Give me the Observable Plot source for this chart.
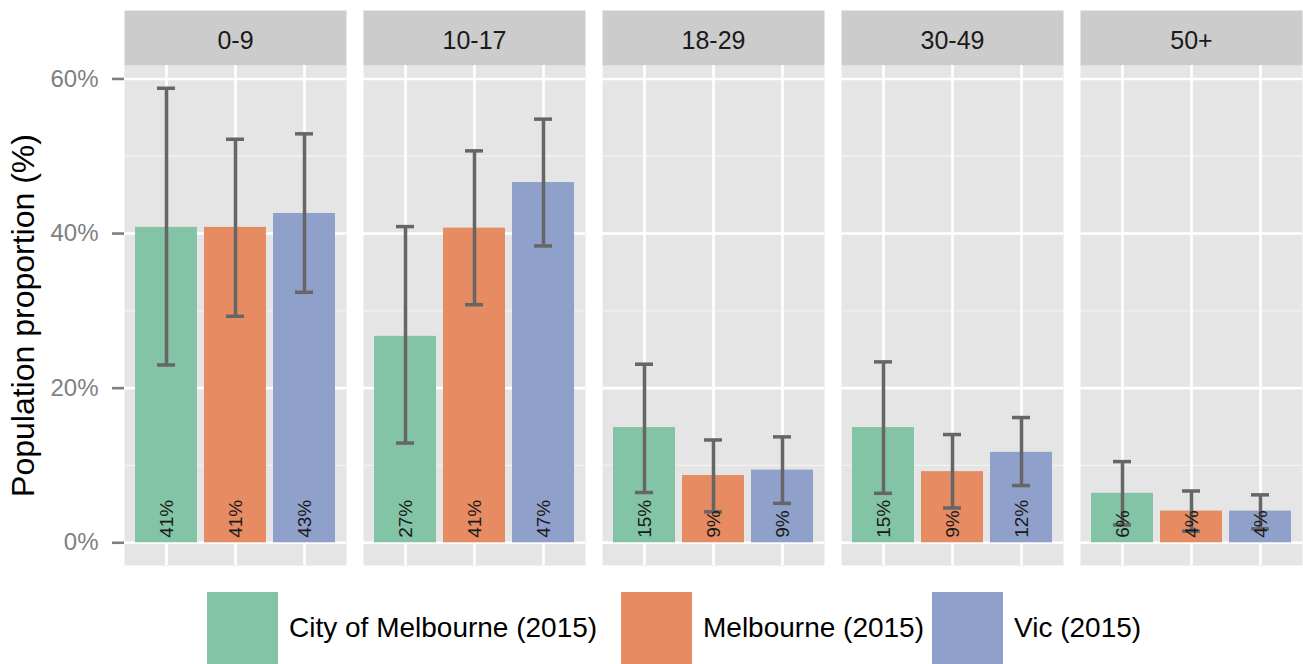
<!DOCTYPE html>
<html>
<head>
<meta charset="utf-8">
<script src="https://cdn.jsdelivr.net/npm/d3@7"></script>
<script src="https://cdn.jsdelivr.net/npm/@observablehq/plot@0.6"></script>
<style>
  html, body { margin: 0; padding: 0; background: white; }
  #chart svg { display: block; }
  #legend { position: relative; height: 72px; margin-top: 12px;
            font-family: "Liberation Sans", Arial, sans-serif; font-size: 28px; color: #000; }
  #legend .item { position: absolute; top: 0; display: flex; align-items: center; height: 72px; }
  #legend .sw { width: 71px; height: 72px; flex: none; }
  #legend .lb { margin-left: 11px; white-space: nowrap; }
</style>
</head>
<body>
<div id="chart"></div>
<div id="legend"></div>
<script>
// Categories
const ages = ["0-9", "10-17", "18-29", "30-49", "50+"];
const regions = ["City of Melbourne (2015)", "Melbourne (2015)", "Vic (2015)"];
const colors = ["#83c3a6", "#e68b62", "#8fa0cb"];

// Series values (%), by age group
const cityValue = [40.8, 26.7, 14.9, 14.9, 6.4];
const cityLow   = [23.0, 12.9, 6.5, 6.4, 2.3];
const cityHigh  = [58.8, 40.9, 23.1, 23.4, 10.5];

const melbValue = [40.8, 40.7, 8.7, 9.2, 4.1];
const melbLow   = [29.3, 30.8, 4.0, 4.5, 1.5];
const melbHigh  = [52.2, 50.7, 13.3, 14.0, 6.7];

const vicValue  = [42.6, 46.6, 9.4, 11.7, 4.1];
const vicLow    = [32.4, 38.4, 5.1, 7.4, 1.8];
const vicHigh   = [52.9, 54.8, 13.7, 16.2, 6.2];

// Axis ticks
const majorTicks = [0, 20, 40, 60];
const minorTicks = [10, 30, 50];

const series = [
  [cityValue, cityLow, cityHigh],
  [melbValue, melbLow, melbHigh],
  [vicValue, vicLow, vicHigh]
];
const data = [];
ages.forEach((age, i) => {
  regions.forEach((region, j) => {
    const [v, lo, hi] = series[j];
    data.push({age, region, value: v[i], lo: lo[i], hi: hi[i]});
  });
});

const chart = Plot.plot({
  width: 1303,
  height: 580,
  marginLeft: 124,
  marginRight: 0,
  marginTop: 65,
  marginBottom: 15,
  style: {fontFamily: "'Liberation Sans', Arial, sans-serif", background: "white", overflow: "visible"},
  fx: {domain: ages, paddingInner: 0.0694, paddingOuter: 0, label: null},
  x: {domain: regions, paddingInner: 0.1, paddingOuter: 0.15, axis: null},
  y: {domain: [-2.94, 61.74], axis: null},
  color: {domain: regions, range: colors},
  marks: [
    Plot.frame({fill: "#e5e5e5"}),
    Plot.frame({fill: "#cccccc", insetTop: -55, insetBottom: 500}),
    Plot.gridY(minorTicks, {stroke: "#f2f2f2", strokeOpacity: 1, strokeWidth: 1.3}),
    Plot.gridY(majorTicks, {stroke: "white", strokeOpacity: 1, strokeWidth: 2.6}),
    Plot.gridX({stroke: "white", strokeOpacity: 1, strokeWidth: 2.6}),
    Plot.barY(data, {fx: "age", x: "region", y: "value", fill: "region"}),
    Plot.ruleX(data, {fx: "age", x: "region", y1: "lo", y2: "hi", stroke: "#666666", strokeWidth: 3.5}),
    Plot.tickY(data, {fx: "age", x: "region", y: "hi", stroke: "#666666", strokeWidth: 3.5, inset: 22}),
    Plot.tickY(data, {fx: "age", x: "region", y: "lo", stroke: "#666666", strokeWidth: 3.5, inset: 22}),
    Plot.text(data, {
      fx: "age", x: "region", y: 0,
      text: d => d3.format(".0f")(d.value) + "%",
      rotate: -90, textAnchor: "start", lineAnchor: "middle", dy: -5,
      fontSize: 19, fill: "#1a1a1a"
    }),
    Plot.axisY({
      ticks: majorTicks, tickFormat: d => d + "%", tickSize: 12, tickPadding: 14,
      fontSize: 24, color: "#7f7f7f", strokeWidth: 2.6, label: null
    }),
    Plot.axisY({
      ticks: [], label: "Population proportion (%)", labelAnchor: "center", labelArrow: "none",
      labelOffset: 113, fontSize: 32, color: "#000"
    }),
    Plot.axisFx({anchor: "top", tickSize: 0, tickPadding: 17, fontSize: 25, color: "#1a1a1a", label: null})
  ]
});
document.getElementById("chart").appendChild(chart);

// Legend
const legendLeft = [207, 621, 932];
const legend = document.getElementById("legend");
regions.forEach((r, i) => {
  const item = document.createElement("div");
  item.className = "item";
  item.style.left = legendLeft[i] + "px";
  const sw = document.createElement("span");
  sw.className = "sw";
  sw.style.background = colors[i];
  const lb = document.createElement("span");
  lb.className = "lb";
  lb.textContent = r;
  item.appendChild(sw);
  item.appendChild(lb);
  legend.appendChild(item);
});
</script>
</body>
</html>
